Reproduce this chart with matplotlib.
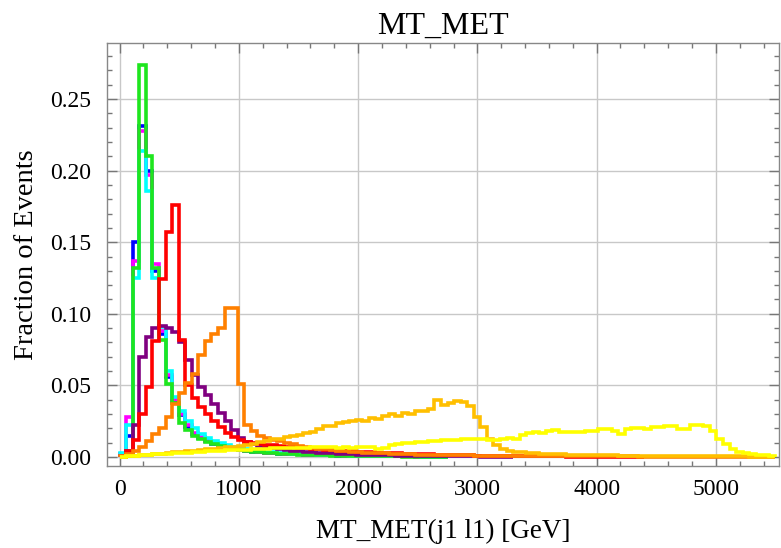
import numpy as np
import matplotlib
matplotlib.use("Agg")
import matplotlib.pyplot as plt
from matplotlib.ticker import MultipleLocator, FormatStrFormatter

# histogram bins: 55 GeV wide, starting at 0
bin_width = 55

blue = [0.002, 0.015, 0.150, 0.231, 0.200, 0.130, 0.086, 0.056, 0.039, 0.029,
        0.021, 0.016, 0.013, 0.011, 0.0092, 0.0078, 0.0066, 0.0057, 0.0049, 0.0043,
        0.0038, 0.0034, 0.0030, 0.0027, 0.0024, 0.0022, 0.0020, 0.0018, 0.0016, 0.0015,
        0.0013, 0.0012, 0.0011, 0.0010, 0.0009, 0.0008, 0.0008, 0.0007, 0.0006, 0.0006,
        0.0005, 0.0005, 0.0004, 0.0004, 0.0004, 0.0003, 0.0003, 0.0003, 0.0002, 0.0002]

magenta = [0.002, 0.028, 0.137, 0.228, 0.197, 0.135, 0.088, 0.057, 0.040, 0.030,
           0.022, 0.017, 0.014, 0.0115, 0.0096, 0.0081, 0.0069, 0.0059, 0.0051, 0.0045,
           0.0040, 0.0035, 0.0031, 0.0028, 0.0025, 0.0023, 0.0021, 0.0019, 0.0017, 0.0015,
           0.0014, 0.0013, 0.0012, 0.0011, 0.0010, 0.0009, 0.0008, 0.0007, 0.0007, 0.0006,
           0.0006, 0.0005, 0.0005, 0.0004, 0.0004, 0.0003, 0.0003, 0.0003, 0.0002, 0.0002]

cyan = [0.003, 0.022, 0.125, 0.214, 0.186, 0.125, 0.091, 0.060, 0.042, 0.032,
        0.025, 0.020, 0.016, 0.013, 0.011, 0.0095, 0.0082, 0.0070, 0.0061, 0.0054,
        0.0047, 0.0042, 0.0037, 0.0033, 0.0030, 0.0027, 0.0024, 0.0022, 0.0020, 0.0018,
        0.0016, 0.0015, 0.0013, 0.0012, 0.0011, 0.0010, 0.0009, 0.0008, 0.0008, 0.0007,
        0.0006, 0.0006, 0.0005, 0.0005, 0.0004, 0.0004, 0.0003, 0.0003, 0.0003, 0.0002]

green = [0.000, 0.001, 0.132, 0.274, 0.210, 0.132, 0.082, 0.051, 0.038, 0.024,
         0.019, 0.015, 0.0125, 0.0105, 0.0088, 0.0074, 0.0063, 0.0054, 0.0047, 0.0041,
         0.0036, 0.0032, 0.0028, 0.0025, 0.0022, 0.0020, 0.0018, 0.0016, 0.0014, 0.0013,
         0.0012, 0.0011, 0.0010, 0.0009, 0.0008, 0.0007, 0.0007, 0.0006, 0.0005, 0.0005,
         0.0004, 0.0004, 0.0004, 0.0003, 0.0003, 0.0003, 0.0002, 0.0002, 0.0002, 0.0002]

purple = [0.0005, 0.004, 0.022, 0.070, 0.084, 0.090, 0.0915, 0.090, 0.0875, 0.080,
          0.068, 0.057, 0.049, 0.043, 0.037, 0.031, 0.025, 0.019, 0.013, 0.0105,
          0.0088, 0.0076, 0.0067, 0.0060, 0.0054, 0.0049, 0.0044, 0.0040, 0.0036, 0.0033,
          0.0030, 0.0027, 0.0025, 0.0023, 0.0021, 0.0019, 0.0017, 0.0016, 0.0015, 0.0013,
          0.0012, 0.0011, 0.0010, 0.0009, 0.0009, 0.0008, 0.0007, 0.0007, 0.0006, 0.0006,
          0.0005, 0.0005, 0.0004, 0.0004, 0.0004, 0.0003, 0.0003, 0.0003, 0.0002, 0.0002]

red = [0.0003, 0.004, 0.012, 0.030, 0.049, 0.081, 0.124, 0.157, 0.176, 0.082,
       0.050, 0.041, 0.035, 0.030, 0.025, 0.021, 0.017, 0.014, 0.012, 0.0105,
       0.0098, 0.0092, 0.0086, 0.0081, 0.0077, 0.0072, 0.0068, 0.0064, 0.0061, 0.0057,
       0.0054, 0.0051, 0.0048, 0.0045, 0.0043, 0.0040, 0.0038, 0.0036, 0.0033, 0.0031,
       0.0029, 0.0027, 0.0026, 0.0024, 0.0022, 0.0021, 0.0019, 0.0018, 0.0017, 0.0015,
       0.0014, 0.0013, 0.0012, 0.0011, 0.0010, 0.0010, 0.0009, 0.0008, 0.0008, 0.0007,
       0.0006, 0.0006, 0.0005, 0.0005, 0.0005, 0.0004, 0.0004, 0.0004, 0.0003, 0.0003,
       0.0003, 0.0003, 0.0002, 0.0002, 0.0002, 0.0002, 0.0002, 0.0001, 0.0001, 0.0001]

orange = [0.0005, 0.002, 0.004, 0.007, 0.011, 0.016, 0.020, 0.028, 0.037, 0.045,
          0.052, 0.058, 0.071, 0.081, 0.086, 0.090, 0.104, 0.104, 0.051, 0.022,
          0.018, 0.015, 0.0135, 0.012, 0.011, 0.0098, 0.0088, 0.0079, 0.0071, 0.0064,
          0.0058, 0.0053, 0.0048, 0.0044, 0.0040, 0.0037, 0.0034, 0.0031, 0.0029, 0.0027,
          0.0025, 0.0023, 0.0021, 0.0020, 0.0019, 0.0017, 0.0016, 0.0015, 0.0014, 0.0013,
          0.0013, 0.0012, 0.0011, 0.0011, 0.0010, 0.0010, 0.0009, 0.0009, 0.0008, 0.0008,
          0.0008, 0.0007, 0.0007, 0.0007, 0.0006, 0.0006, 0.0006, 0.0006, 0.0005, 0.0005,
          0.0005, 0.0005, 0.0005, 0.0004, 0.0004, 0.0004, 0.0004, 0.0004, 0.0004, 0.0003,
          0.0003, 0.0003, 0.0003, 0.0003, 0.0003, 0.0003, 0.0003, 0.0002, 0.0002, 0.0002,
          0.0002, 0.0002, 0.0002, 0.0002, 0.0002, 0.0002, 0.0001, 0.0001, 0.0001, 0.0001]

gold = [0.0003, 0.0006, 0.0010, 0.0013, 0.0017, 0.0021, 0.0024, 0.0028, 0.0032, 0.0036,
        0.0040, 0.0044, 0.0049, 0.0053, 0.0058, 0.0063, 0.0068, 0.0073, 0.0079, 0.0085,
        0.0093, 0.0104, 0.0114, 0.0124, 0.0129, 0.0138, 0.0149, 0.0155, 0.0165, 0.0173,
        0.0195, 0.0219, 0.0214, 0.0236, 0.0246, 0.0252, 0.0259, 0.0250, 0.0272, 0.0268,
        0.0284, 0.0298, 0.0289, 0.0308, 0.0300, 0.0324, 0.0318, 0.0334, 0.0396, 0.0364,
        0.0378, 0.0390, 0.0386, 0.0358, 0.0279, 0.0206, 0.0128, 0.0084, 0.0059, 0.0045,
        0.0038, 0.0033, 0.0029, 0.0026, 0.0024, 0.0022, 0.0020, 0.0019, 0.0017, 0.0016,
        0.0015, 0.0014, 0.0013, 0.0012, 0.0012, 0.0011, 0.0010, 0.0010, 0.0009, 0.0009,
        0.0008, 0.0008, 0.0007, 0.0007, 0.0007, 0.0006, 0.0006, 0.0006, 0.0005, 0.0005,
        0.0005, 0.0005, 0.0004, 0.0004, 0.0004, 0.0004, 0.0003, 0.0003, 0.0003, 0.0003]

yellow = [0.0003, 0.0006, 0.0009, 0.0012, 0.0015, 0.0018, 0.0020, 0.0023, 0.0026, 0.0029,
          0.0031, 0.0034, 0.0036, 0.0039, 0.0041, 0.0043, 0.0046, 0.0048, 0.0050, 0.0052,
          0.0055, 0.0056, 0.0059, 0.0060, 0.0061, 0.0063, 0.0064, 0.0065, 0.0066, 0.0068,
          0.0067, 0.0069, 0.0068, 0.0066, 0.0068, 0.0066, 0.0067, 0.0070, 0.0072, 0.0058,
          0.0062, 0.0085, 0.0092, 0.0097, 0.0100, 0.0103, 0.0106, 0.0110, 0.0114, 0.0117,
          0.0120, 0.0121, 0.0124, 0.0126, 0.0128, 0.0127, 0.0122, 0.0118, 0.0124, 0.0131,
          0.0125, 0.0152, 0.0165, 0.0172, 0.0171, 0.0179, 0.0186, 0.0172, 0.0175, 0.0178,
          0.0177, 0.0183, 0.0185, 0.0196, 0.0198, 0.0180, 0.0160, 0.0193, 0.0205, 0.0204,
          0.0198, 0.0206, 0.0212, 0.0215, 0.0218, 0.0196, 0.0194, 0.0222, 0.0224, 0.0215,
          0.0185, 0.0125, 0.0088, 0.0055, 0.0035, 0.0026, 0.0021, 0.0016, 0.0013, 0.0010]

series = [
    (blue, "#0000ff"),
    (magenta, "#ff00ff"),
    (cyan, "#00ffff"),
    (green, "#1ee61e"),
    (purple, "#800080"),
    (red, "#ff0000"),
    (orange, "#ff8000"),
    (gold, "#ffbf00"),
    (yellow, "#ffff00"),
]

plt.rcParams["font.family"] = ["Liberation Serif", "DejaVu Serif"]

fig = plt.figure(figsize=(7.81, 5.48), dpi=100)
ax = fig.add_axes([0.1364, 0.1496, 0.8611, 0.7714])

for vals, col in series:
    edges = np.arange(len(vals) + 1) * bin_width
    ax.stairs(vals, edges, color=col, linewidth=2.6, baseline=0)

ax.set_xlim(-110, 5530)
ax.set_ylim(-0.0063, 0.2889)

ax.xaxis.set_major_locator(MultipleLocator(1000))
ax.xaxis.set_minor_locator(MultipleLocator(200))
ax.yaxis.set_major_locator(MultipleLocator(0.05))
ax.yaxis.set_minor_locator(MultipleLocator(0.01))
ax.yaxis.set_major_formatter(FormatStrFormatter("%.2f"))

ax.grid(True, which="major", color="#c8c8c8", linewidth=1.0)
ax.set_axisbelow(True)

ax.tick_params(which="both", direction="in", top=True, right=True,
               color="#777777", labelsize=17)
ax.tick_params(which="major", length=7, width=1)
ax.tick_params(which="minor", length=3.5, width=1)
ax.tick_params(axis="x", pad=9)
ax.tick_params(axis="y", pad=11)
for s in ax.spines.values():
    s.set_color("#888888")
    s.set_linewidth(1.0)

ax.set_title("MT_MET", fontsize=23, pad=7)
ax.set_xlabel("MT_MET(j1 l1) [GeV]", fontsize=19.5, labelpad=14)
ax.set_ylabel("Fraction of Events", fontsize=20.5, labelpad=8)

fig.savefig("out.png", dpi=100)
